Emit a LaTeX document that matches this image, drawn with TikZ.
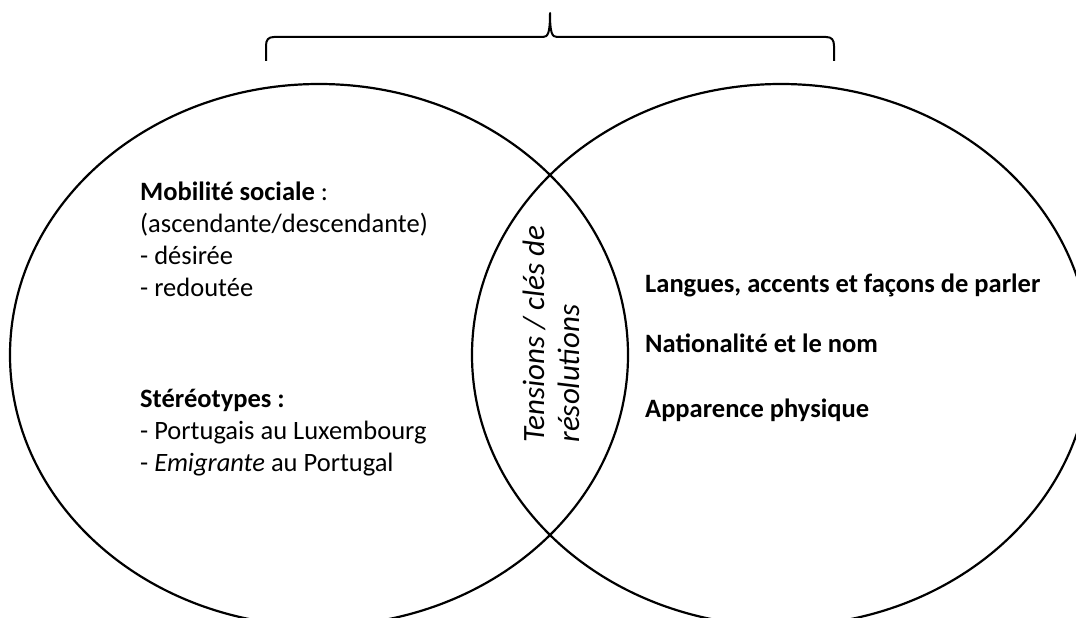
\documentclass[tikz,border=0pt]{standalone}
\usepackage{fontspec}
\setmainfont{Carlito}
\begin{document}
\begin{tikzpicture}[x=1pt,y=-1pt,
  ring/.style={line width=2.2pt},
  bracket/.style={line width=2pt, line join=round},
  txt/.style={inner sep=0pt, align=left, font=\fontsize{26.5}{32}\selectfont},
  boldtxt/.style={inner sep=0pt, align=left, font=\fontsize{26.5}{32}\selectfont\bfseries},
  slanttxt/.style={inner sep=0pt, align=left, font=\fontsize{31}{35}\selectfont\itshape}]
\useasboundingbox (0,0) rectangle (1076,618);
\fill[white] (0,0) rectangle (1076,618);

% the two overlapping sets, cut by the frame
\begin{scope}
  \clip (0,0) rectangle (1076,618);
  \draw[ring] (319,355) ellipse [x radius=309, y radius=271];
  \draw[ring] (781,355) ellipse [x radius=309, y radius=271];
\end{scope}

% curly bracket over both sets
\coordinate (bl) at (266,61);
\coordinate (br) at (834,61);
\coordinate (tip) at (550,13);
\draw[bracket] (bl) -- (266,46) .. controls (266,40) and (268,37) .. (274,37)
  -- (543,37) .. controls (548,37) and (550,33) .. (tip)
  .. controls (550,33) and (552,37) .. (557,37)
  -- (826,37) .. controls (832,37) and (834,40) .. (834,46) -- (br);

% left set (base anchor sits on the last line)
\node[txt, anchor=base west] (mob) at (140,296)
  {\textbf{Mobilité sociale} :\\(ascendante/descendante)\\- désirée\\- redoutée};
\node[txt, anchor=base west] (ster) at (140,471)
  {\textbf{Stéréotypes :}\\- Portugais au Luxembourg\\- \textit{Emigrante} au Portugal};

% overlap
\node[slanttxt, rotate=90, anchor=center] (tens) at (551,334)
  {Tensions / clés de\\résolutions};

% right set
\node[boldtxt, anchor=base west] (lang) at (645,292) {Langues, accents et façons de parler};
\node[boldtxt, anchor=base west] (nat) at (645,352) {Nationalité et le nom};
\node[boldtxt, anchor=base west] (app) at (645,417) {Apparence physique};
\end{tikzpicture}
\end{document}
